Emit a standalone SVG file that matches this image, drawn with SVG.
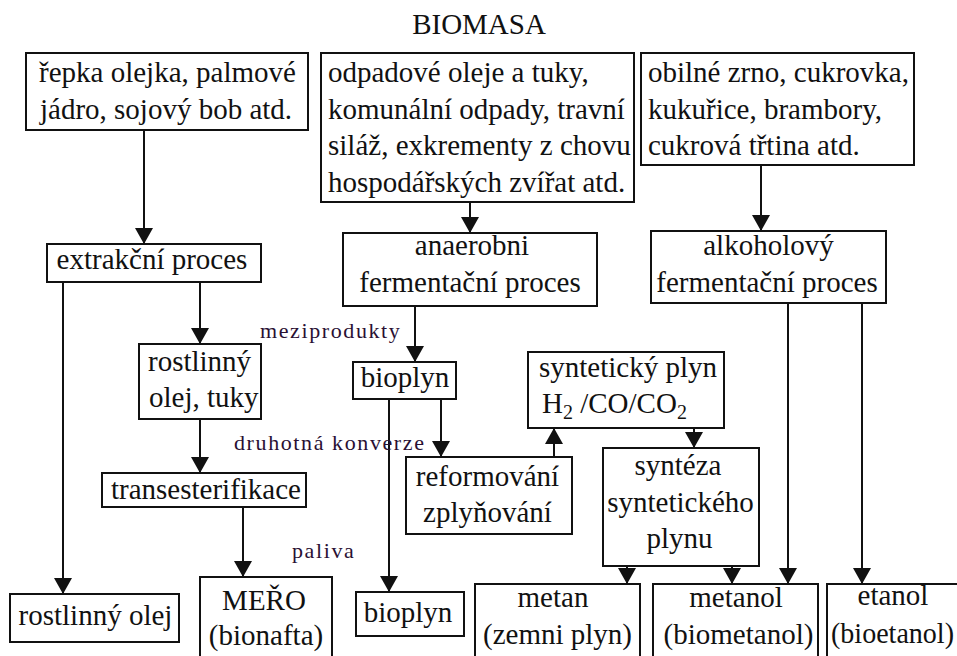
<svg xmlns="http://www.w3.org/2000/svg" width="957" height="656" viewBox="0 0 957 656">
<style>
.b{fill:#fff;stroke:#111;stroke-width:2}
.t{font-family:"Liberation Serif","Times New Roman",serif;font-size:29px;fill:#111}
.m{text-anchor:middle}
.s{font-family:"Liberation Serif","Times New Roman",serif;font-size:22px;letter-spacing:1.6px;fill:#2a1033}
.c{stroke:#111;stroke-width:2;fill:none;marker-end:url(#ah)}
</style>
<defs>
<marker id="ah" viewBox="0 0 16 18" refX="16" refY="9" markerWidth="16" markerHeight="18" markerUnits="userSpaceOnUse" orient="auto">
<path d="M0,0 L16,9 L0,18 z" fill="#111"/>
</marker>
</defs>
<rect width="957" height="656" fill="#fff"/>
<text class="t m" x="479" y="34">BIOMASA</text>

<g id="connectors">
<line class="c" x1="144" y1="130" x2="144" y2="244"/>
<line class="c" x1="470" y1="202" x2="470" y2="233"/>
<line class="c" x1="761" y1="165" x2="761" y2="231"/>
<line class="c" x1="63" y1="282" x2="63" y2="594"/>
<line class="c" x1="200" y1="282" x2="200" y2="344"/>
<line class="c" x1="200" y1="419" x2="200" y2="473"/>
<line class="c" x1="243" y1="507" x2="243" y2="577"/>
<line class="c" x1="415" y1="306" x2="415" y2="362"/>
<line class="c" x1="389" y1="399" x2="389" y2="592"/>
<line class="c" x1="441" y1="399" x2="441" y2="457"/>
<line class="c" x1="554" y1="457" x2="554" y2="428"/>
<line class="c" x1="694" y1="428" x2="694" y2="448"/>
<line class="c" x1="627" y1="566" x2="627" y2="584"/>
<line class="c" x1="732" y1="566" x2="732" y2="584"/>
<line class="c" x1="788" y1="303" x2="788" y2="584"/>
<line class="c" x1="862" y1="303" x2="862" y2="584"/>
</g>

<g id="labels">
<text class="s" x="260" y="338">meziprodukty</text>
<text class="s" x="234" y="450">druhotná konverze</text>
<text class="s" x="292" y="558">paliva</text>
</g>

<g id="src-oil">
<rect class="b" x="26" y="53" width="282" height="77"/>
<text class="t" x="39" y="82">řepka olejka, palmové</text>
<text class="t" x="40" y="118.5">jádro, sojový bob atd.</text>
</g>
<g id="src-waste">
<rect class="b" x="321" y="53" width="313" height="149"/>
<text class="t" x="328" y="82">odpadové oleje a tuky,</text>
<text class="t" x="328" y="118.5">komunální odpady, travní</text>
<text class="t" x="328" y="155">siláž, exkrementy z chovu</text>
<text class="t" x="328" y="191.5">hospodářských zvířat atd.</text>
</g>
<g id="src-grain">
<rect class="b" x="641" y="53" width="273" height="112"/>
<text class="t" x="648" y="82">obilné zrno, cukrovka,</text>
<text class="t" x="648" y="118.5">kukuřice, brambory,</text>
<text class="t" x="648" y="155">cukrová třtina atd.</text>
</g>
<g id="extraction">
<rect class="b" x="47" y="244" width="214" height="38"/>
<text class="t m" x="152" y="269">extrakční proces</text>
</g>
<g id="anaerobic">
<rect class="b" x="343" y="233" width="254" height="73"/>
<text class="t m" x="472" y="255">anaerobni</text>
<text class="t m" x="470" y="292">fermentační proces</text>
</g>
<g id="alcoholic">
<rect class="b" x="651" y="231" width="235" height="72"/>
<text class="t m" x="768.5" y="255">alkoholový</text>
<text class="t m" x="767" y="292">fermentační proces</text>
</g>
<g id="veg-oil-fat">
<rect class="b" x="139" y="344" width="122" height="75"/>
<text class="t" x="148" y="371">rostlinný</text>
<text class="t" x="149" y="407">olej, tuky</text>
</g>
<g id="biogas-mid">
<rect class="b" x="353" y="362" width="103" height="37"/>
<text class="t m" x="405" y="387">bioplyn</text>
</g>
<g id="syngas">
<rect class="b" x="528" y="352" width="196" height="76"/>
<text class="t m" x="628" y="377">syntetický plyn</text>
<text class="t" x="542" y="413">H<tspan font-size="20" dy="6">2</tspan><tspan dy="-6"> /CO/CO</tspan><tspan font-size="20" dy="6">2</tspan></text>
</g>
<g id="reforming">
<rect class="b" x="406" y="457" width="166" height="77"/>
<text class="t m" x="487.5" y="486">reformování</text>
<text class="t m" x="487.5" y="522">zplyňování</text>
</g>
<g id="synthesis">
<rect class="b" x="603" y="448" width="156" height="118"/>
<text class="t m" x="678" y="475">syntéza</text>
<text class="t m" x="680.5" y="512">syntetického</text>
<text class="t m" x="679.5" y="548">plynu</text>
</g>
<g id="transesterification">
<rect class="b" x="102" y="473" width="204" height="34"/>
<text class="t m" x="206" y="499">transesterifikace</text>
</g>
<g id="mero">
<rect class="b" x="200" y="577" width="132" height="90"/>
<text class="t m" x="264" y="610">MEŘO</text>
<text class="t m" x="266" y="645">(bionafta)</text>
</g>
<g id="veg-oil">
<rect class="b" x="10" y="594" width="169" height="48"/>
<text class="t m" x="95.5" y="625">rostlinný olej</text>
</g>
<g id="biogas-out">
<rect class="b" x="356" y="592" width="108" height="44"/>
<text class="t m" x="408" y="622">bioplyn</text>
</g>
<g id="methane">
<rect class="b" x="475" y="584" width="165" height="90"/>
<text class="t m" x="553" y="607">metan</text>
<text class="t m" x="557.5" y="644">(zemni plyn)</text>
</g>
<g id="methanol">
<rect class="b" x="653" y="584" width="165" height="90"/>
<text class="t m" x="736" y="607">metanol</text>
<text class="t m" x="738.5" y="644">(biometanol)</text>
</g>
<g id="ethanol">
<rect class="b" x="827" y="584" width="160" height="90"/>
<text class="t m" x="893" y="605">etanol</text>
<text class="t" x="831" y="643" textLength="123" lengthAdjust="spacingAndGlyphs">(bioetanol)</text>
</g>
</svg>
